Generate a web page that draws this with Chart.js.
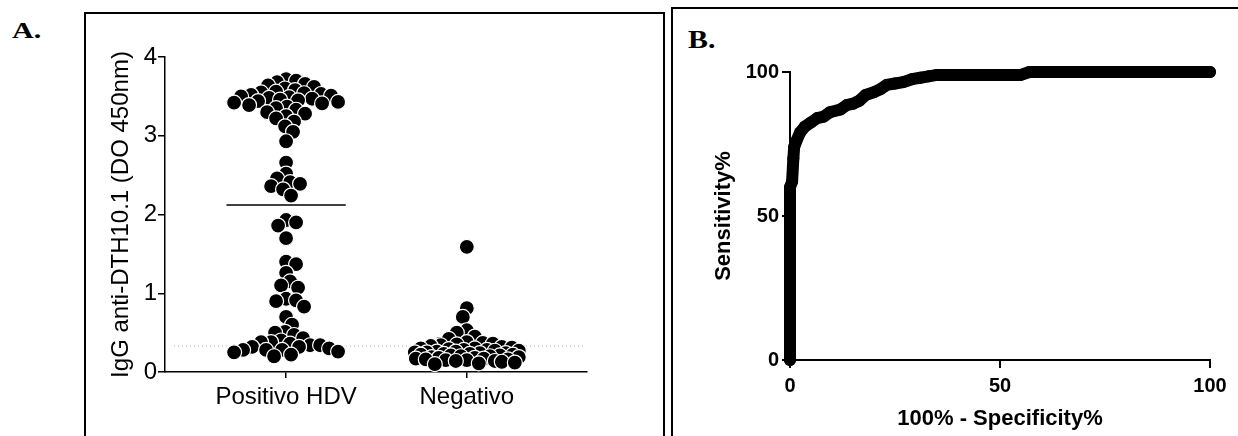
<!DOCTYPE html>
<html><head><meta charset="utf-8">
<script src="https://cdn.jsdelivr.net/npm/chart.js@4.4.1/dist/chart.umd.min.js"></script>
<style>
html,body{margin:0;padding:0;background:#fff;width:1238px;height:436px;overflow:hidden;}
.box{position:absolute;border:2px solid #000;box-sizing:border-box;}
.lbl{position:absolute;font-family:"Liberation Serif","Times New Roman",serif;font-weight:bold;color:#000;line-height:1;transform-origin:0 0;}
canvas{position:absolute;left:0;top:0;}
.wrap{position:absolute;top:0;}
</style></head>
<body>
<div class="box" style="left:84px;top:12px;width:581px;height:500px"></div>
<div class="box" style="left:671px;top:7px;width:600px;height:500px"></div>
<div class="lbl" style="left:12px;top:18px;font-size:24px;transform:scaleX(1.25)">A.</div>
<div class="lbl" style="left:688px;top:27px;font-size:26px;transform:scaleX(1.15)">B.</div>
<div class="wrap" style="left:0;width:665px;height:436px"><canvas id="ca" width="665" height="436"></canvas></div>
<div class="wrap" style="left:665px;width:573px;height:436px"><canvas id="cb" width="573" height="436"></canvas></div>
<script>
// ---------- Panel A data ----------
const categories = ['Positivo HDV', 'Negativo'];
const positivoHDV = [3.72, 3.70, 3.68, 3.66, 3.64, 3.62, 3.60, 3.58,
  3.56, 3.55, 3.54, 3.53, 3.52, 3.51, 3.50, 3.49, 3.48, 3.47, 3.46, 3.45, 3.44, 3.43, 3.42, 3.41,
  3.39, 3.37, 3.35, 3.33, 3.30, 3.28, 3.25, 3.22, 3.18, 3.12, 3.05, 2.93,
  2.66, 2.52, 2.46, 2.41, 2.39, 2.36, 2.32, 2.24, 1.93, 1.90, 1.86, 1.70,
  1.40, 1.37, 1.26, 1.15, 1.10, 1.07, 0.93, 0.91, 0.90, 0.83, 0.70, 0.60, 0.51, 0.50, 0.47, 0.43, 0.40,
  0.38, 0.38, 0.36, 0.34, 0.34, 0.32, 0.32, 0.30, 0.28, 0.28, 0.28, 0.26, 0.25, 0.22, 0.20];
const negativo = [1.59, 0.81, 0.70, 0.53, 0.50, 0.45, 0.42, 0.38, 0.37, 0.36, 0.35, 0.34, 0.33, 0.32, 0.31,
  0.30, 0.30, 0.29, 0.28, 0.28, 0.27, 0.27, 0.26, 0.26, 0.25, 0.25, 0.24, 0.24, 0.23, 0.23, 0.22, 0.22, 0.21,
  0.21, 0.20, 0.20, 0.19, 0.19, 0.18, 0.18, 0.17, 0.17, 0.16, 0.16, 0.15, 0.15, 0.14, 0.14, 0.13, 0.12, 0.11, 0.10];
const groupMeans = [2.12, 0.43];
const cutoffValue = 0.33;
const yTicksA = [0, 1, 2, 3, 4];

// ---------- Panel B data ----------
const rocX = [0, 0, 0, 0, 0, 0, 0, 0, 0.5, 0.8, 1, 1.5, 2.4, 3.5, 5, 6.5, 8, 9.5, 12, 13.5, 15, 16.5, 18, 20, 21.5,
  23, 25, 27, 29, 31, 33, 35, 40, 45, 50, 55, 57, 65, 75, 85, 95, 100];
const rocY = [0, 10, 20, 30, 40, 50, 57, 60, 62, 70, 74, 76, 79, 81, 82.5, 84, 84.5, 86, 87, 88.5, 89, 90, 92, 93, 94,
  95.5, 96, 96.5, 97.5, 98, 98.5, 99, 99, 99, 99, 99, 100, 100, 100, 100, 100, 100];
const ticksB = [0, 50, 100];

const FA = '"Liberation Sans", Arial, Helvetica, sans-serif';
const groups = [positivoHDV, negativo];
const lineHalf = [0.33, 0.166];

function swarm(vals, pxY, minDist, maxOff, step) {
  const placed = [];
  return vals.map((v, i) => {
    const y = v * pxY;
    let best = 0, bestScore = -1, found = false;
    for (let k = 0; k * step <= maxOff && !found; k++) {
      const c = k === 0 ? [0] : (i % 2 ? [k * step, -k * step] : [-k * step, k * step]);
      for (const dx of c) {
        let md = Infinity;
        for (const p of placed) { const d = Math.hypot(p.dx - dx, p.y - y); if (d < md) md = d; }
        if (md >= minDist) { best = dx; found = true; break; }
        if (md > bestScore) { bestScore = md; best = dx; }
      }
    }
    placed.push({dx: best, y});
    return best;
  });
}

const dotStyle = {pointRadius: 7.5, pointHoverRadius: 7.5, backgroundColor: '#000', borderColor: '#fff', borderWidth: 1.2, clip: false, order: 0};
const axisA = {grid: {drawOnChartArea: false, drawTicks: true, color: '#000', lineWidth: 1.5}, border: {display: true, color: '#000', width: 1.5}};

const chartA = new Chart(document.getElementById('ca'), {
  type: 'scatter',
  data: {datasets: [
    ...groups.map((vals, gi) => Object.assign({label: categories[gi], data: vals.map(v => ({x: gi + 1, y: v}))}, dotStyle)),
    ...groupMeans.map((m, gi) => ({type: 'line', data: [{x: gi + 1 - lineHalf[gi], y: m}, {x: gi + 1 + lineHalf[gi], y: m}],
      borderColor: '#000', borderWidth: 1.5, pointRadius: 0, order: 2})),
    {type: 'line', data: [{x: 0.38, y: cutoffValue}, {x: 2.65, y: cutoffValue}], borderColor: '#b0b0b0', borderWidth: 1,
      borderDash: [1, 3], pointRadius: 0, order: 3}
  ]},
  options: {
    responsive: false, animation: false, events: [],
    layout: {padding: {left: 0, top: 57, right: 78, bottom: 0}},
    plugins: {legend: {display: false}, tooltip: {enabled: false}},
    scales: {
      x: Object.assign({}, axisA, {type: 'linear', min: 0.33, max: 2.665,
        grid: Object.assign({}, axisA.grid, {tickLength: 6}),
        afterBuildTicks: s => { s.ticks = categories.map((c, i) => ({value: i + 1})); },
        afterFit: s => { s.height = 64; },
        ticks: {callback: v => categories[Math.round(v) - 1], font: {family: FA, size: 24}, color: '#000', padding: 5, maxRotation: 0, autoSkip: false}}),
      y: Object.assign({}, axisA, {min: 0, max: 4,
        grid: Object.assign({}, axisA.grid, {tickLength: 7}),
        afterBuildTicks: s => { s.ticks = yTicksA.map(v => ({value: v})); },
        afterFit: s => { s.width = 165; },
        ticks: {font: {family: FA, size: 24}, color: '#000', padding: 1},
        title: {display: true, text: 'IgG anti-DTH10.1 (DO 450nm)', font: {family: FA, size: 24}, color: '#000', padding: {top: 107, bottom: 0}}})
    }
  }
});
(function () {
  const xs = chartA.scales.x, ys = chartA.scales.y;
  const pxX = xs.getPixelForValue(2) - xs.getPixelForValue(1);
  const pxY = ys.getPixelForValue(0) - ys.getPixelForValue(1);
  groups.forEach((vals, gi) => {
    const offs = swarm(vals, pxY, 9.5, 52, 1);
    chartA.data.datasets[gi].data = vals.map((v, i) => ({x: gi + 1 + offs[i] / pxX, y: v}));
  });
  chartA.update('none');
})();

const axisB = {grid: {drawOnChartArea: false, drawTicks: true, color: '#000', lineWidth: 2, tickLength: 8}, border: {display: true, color: '#000', width: 2}};
new Chart(document.getElementById('cb'), {
  type: 'line',
  data: {datasets: [{data: rocX.map((x, i) => ({x, y: rocY[i]})), borderColor: '#000', borderWidth: 12, pointRadius: 6,
    pointBackgroundColor: '#000', pointBorderWidth: 0, borderJoinStyle: 'round', borderCapStyle: 'round', tension: 0, clip: false}]},
  options: {
    responsive: false, animation: false, events: [],
    layout: {padding: {left: 0, top: 72, right: 28, bottom: 0}},
    plugins: {legend: {display: false}, tooltip: {enabled: false}},
    scales: {
      x: Object.assign({}, axisB, {type: 'linear', min: 0, max: 100,
        afterBuildTicks: s => { s.ticks = ticksB.map(v => ({value: v})); },
        afterFit: s => { s.height = 76; },
        ticks: {font: {family: FA, size: 20, weight: 'bold'}, color: '#000', padding: 6, maxRotation: 0},
        title: {display: true, text: '100% - Specificity%', font: {family: FA, size: 22, weight: 'bold'}, color: '#000', padding: {top: 0, bottom: 4}}}),
      y: Object.assign({}, axisB, {type: 'linear', min: 0, max: 100,
        afterBuildTicks: s => { s.ticks = ticksB.map(v => ({value: v})); },
        afterFit: s => { s.width = 125; },
        ticks: {font: {family: FA, size: 20, weight: 'bold'}, color: '#000', padding: 3},
        title: {display: true, text: 'Sensitivity%', font: {family: FA, size: 22, weight: 'bold'}, color: '#000', padding: {top: 46, bottom: 0}}})
    }
  }
});
</script>
</body></html>
